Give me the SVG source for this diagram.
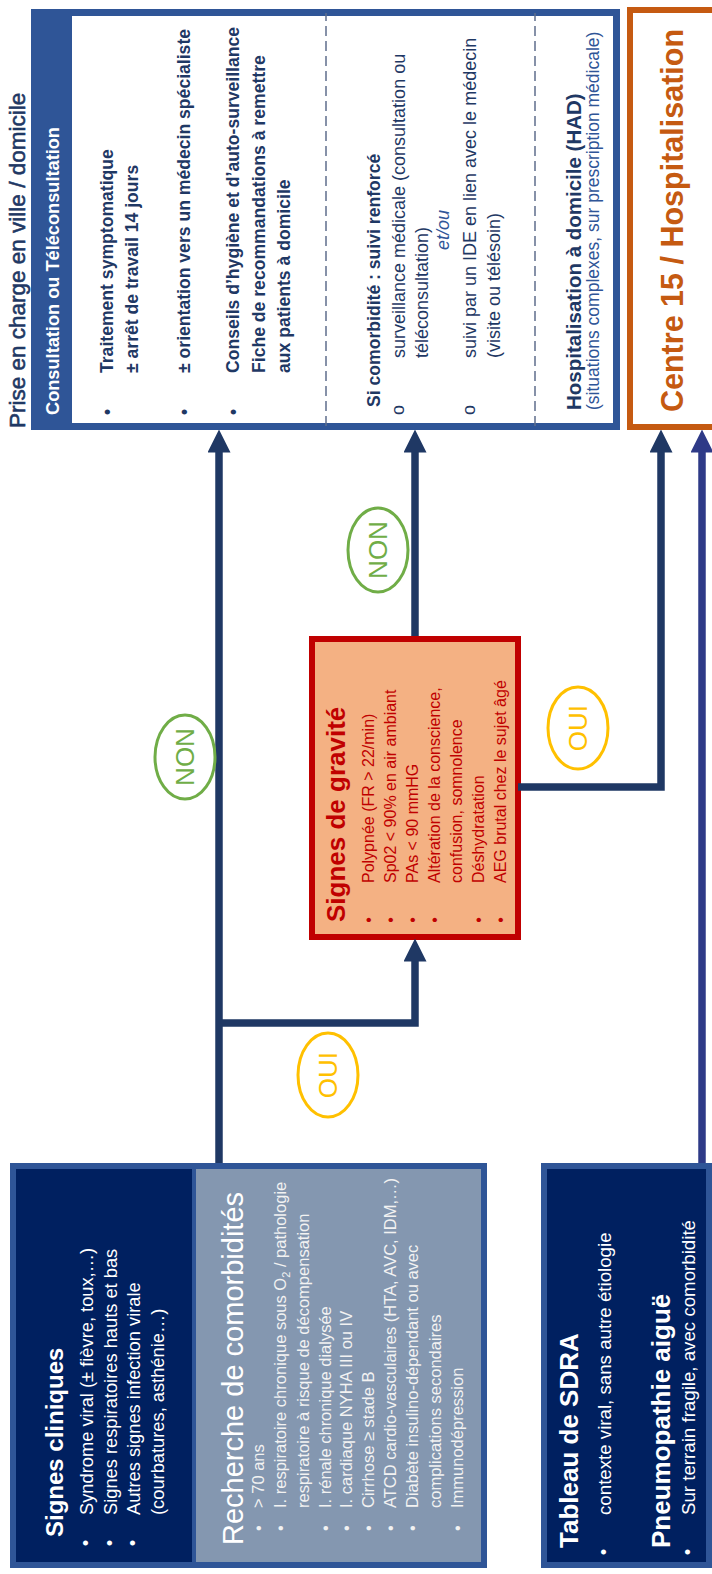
<svg xmlns="http://www.w3.org/2000/svg" width="712" height="1574" viewBox="0 0 712 1574">
<defs>
<style>
text{font-family:"Liberation Sans",Arial,"DejaVu Sans",sans-serif}
.nv{fill:#1F3864}
.b{font-weight:bold}
.s1{font-size:17.6px;font-weight:bold;fill:#1F3864}
.s2{font-size:18px;fill:#1F3864}
.wh{fill:#FFFFFF}
.gl{fill:#F2F2F2;font-size:16.5px}
.rd{fill:#C00000;font-size:16px}
.conn{fill:none;stroke:#1F3864;stroke-width:7.5;stroke-linejoin:miter}
.oui{fill:none;stroke:#FFC000;stroke-width:3}
.non{fill:none;stroke:#70AD47;stroke-width:3}
.lab{font-size:26px;text-anchor:middle}
.dash{stroke:#5F6E8C;stroke-width:1.5;stroke-dasharray:10 5}
</style>
<marker id="ah" markerUnits="userSpaceOnUse" viewBox="0 0 23 23" markerWidth="23" markerHeight="23" refX="0.5" refY="11.5" orient="auto"><path d="M0,0 L23,11.5 L0,23 Z" fill="#1F3864"/></marker>
<marker id="ah2" markerUnits="userSpaceOnUse" viewBox="0 0 23 23" markerWidth="23" markerHeight="23" refX="0.5" refY="11.5" orient="auto"><path d="M0,0 L23,11.5 L0,23 Z" fill="#2E3A87"/></marker>
</defs>
<rect width="712" height="1574" fill="#FFFFFF"/>
<g transform="translate(0,1574) rotate(-90)">

<g id="node-prise-en-charge">
<text x="1146" y="25" class="nv" font-size="22.5" stroke="#1F3864" stroke-width="0.6">Prise en charge en ville / domicile</text>
<rect x="1147.5" y="34.5" width="414" height="582" fill="#FFFFFF" stroke="#2F5597" stroke-width="7"/>
<rect x="1144" y="31" width="421" height="41" fill="#2F5597"/>
<text x="1159" y="59" class="wh b" font-size="18.2">Consultation ou Téléconsultation</text>
<line x1="1148" y1="326" x2="1561" y2="326" class="dash"/>
<line x1="1148" y1="535" x2="1561" y2="535" class="dash"/>
<text x="1162" y="113" class="s1" text-anchor="middle">•</text>
<text x="1201" y="113" class="s1">Traitement symptomatique</text>
<text x="1201" y="138" class="s1">± arrêt de travail 14 jours</text>
<text x="1162" y="190" class="s1" text-anchor="middle">•</text>
<text x="1201" y="190" class="s1">± orientation vers un médecin spécialiste</text>
<text x="1162" y="239" class="s1" text-anchor="middle">•</text>
<text x="1201" y="239" class="s1">Conseils d’hygiène et d’auto-surveillance</text>
<text x="1201" y="265" class="s1">Fiche de recommandations à remettre</text>
<text x="1201" y="290" class="s1">aux patients à domicile</text>
<text x="1167" y="380" class="s1" font-size="18">Si comorbidité : suivi renforcé</text>
<text x="1164" y="404" class="s2" text-anchor="middle">o</text>
<text x="1216" y="405" class="s2">surveillance médicale (consultation ou</text>
<text x="1216" y="428" class="s2">téléconsultation)</text>
<text x="1344" y="449" font-size="18" font-style="italic" fill="#2F5597" text-anchor="middle">et/ou</text>
<text x="1164" y="475" class="s2" text-anchor="middle">o</text>
<text x="1216" y="476" class="s2">suivi par un IDE en lien avec le médecin</text>
<text x="1216" y="500" class="s2">(visite ou télésoin)</text>
<text x="1164" y="581" class="nv b" font-size="20.5">Hospitalisation à domicile (HAD)</text>
<text x="1164" y="599" font-size="17.5" fill="#2F5597">(situations complexes, sur prescription médicale)</text>
</g>

<g id="node-centre15">
<rect x="1147" y="630" width="417" height="110" fill="#FFFFFF" stroke="#C55A11" stroke-width="6"/>
<text x="1162" y="683" font-size="30.5" font-weight="bold" fill="#C55A11">Centre 15 / Hospitalisation</text>
</g>

<g id="node-signes-cliniques">
<rect x="9" y="13" width="399" height="181" fill="#002060"/>
<text x="37" y="63" class="wh b" font-size="24">Signes cliniques</text>
<text x="31" y="92" class="wh" font-size="18.3" text-anchor="middle">•</text>
<text x="59" y="93" class="wh" font-size="18.3">Syndrome viral (± fièvre, toux,…)</text>
<text x="31" y="116" class="wh" font-size="18.3" text-anchor="middle">•</text>
<text x="59" y="117" class="wh" font-size="18.3">Signes respiratoires hauts et bas</text>
<text x="31" y="139" class="wh" font-size="18.3" text-anchor="middle">•</text>
<text x="59" y="140" class="wh" font-size="18.3">Autres signes infection virale</text>
<text x="59" y="164" class="wh" font-size="18.3">(courbatures, asthénie…)</text>
</g>

<g id="node-comorbidites">
<rect x="9" y="194" width="399" height="290" fill="#8497B0"/>
<text x="29" y="243" class="wh" font-size="29">Recherche de comorbidités</text>
<text x="46" y="264" class="gl" text-anchor="middle">•</text>
<text x="66" y="264" class="gl">&gt; 70 ans</text>
<text x="46" y="286" class="gl" text-anchor="middle">•</text>
<text x="66" y="286" class="gl">I. respiratoire chronique sous O<tspan font-size="11" dy="4">2</tspan><tspan dy="-4"> / pathologie</tspan></text>
<text x="66" y="309" class="gl">respiratoire à risque de décompensation</text>
<text x="46" y="331" class="gl" text-anchor="middle">•</text>
<text x="66" y="331" class="gl">I. rénale chronique dialysée</text>
<text x="46" y="352" class="gl" text-anchor="middle">•</text>
<text x="66" y="352" class="gl">I. cardiaque NYHA III ou IV</text>
<text x="46" y="374" class="gl" text-anchor="middle">•</text>
<text x="66" y="374" class="gl">Cirrhose ≥ stade B</text>
<text x="46" y="396" class="gl" text-anchor="middle">•</text>
<text x="66" y="396" class="gl">ATCD cardio-vasculaires (HTA, AVC, IDM,…)</text>
<text x="46" y="418" class="gl" text-anchor="middle">•</text>
<text x="66" y="418" class="gl">Diabète insulino-dépendant ou avec</text>
<text x="66" y="441" class="gl">complications secondaires</text>
<text x="46" y="463" class="gl" text-anchor="middle">•</text>
<text x="66" y="463" class="gl">Immunodépression</text>
<rect x="9" y="13" width="399" height="471" fill="none" stroke="#2F5597" stroke-width="6"/>
<line x1="9" y1="194" x2="408" y2="194" stroke="#2F5597" stroke-width="4"/>
</g>

<g id="node-sdra">
<rect x="9" y="544" width="399" height="165" fill="#002060" stroke="#2F5597" stroke-width="6"/>
<text x="26" y="578" class="wh b" font-size="26">Tableau de SDRA</text>
<text x="22" y="610" class="wh" font-size="18.7" text-anchor="middle">•</text>
<text x="59" y="611" class="wh" font-size="18.7">contexte viral, sans autre étiologie</text>
<text x="26" y="670" class="wh b" font-size="26">Pneumopathie aiguë</text>
<text x="22" y="694" class="wh" font-size="18.7" text-anchor="middle">•</text>
<text x="59" y="695" class="wh" font-size="18.7">Sur terrain fragile, avec comorbidité</text>
</g>

<g id="node-gravite">
<rect x="637" y="312" width="298" height="206" fill="#F4B183" stroke="#C00000" stroke-width="6"/>
<text x="652" y="345" font-size="26" font-weight="bold" fill="#C00000">Signes de gravité</text>
<text x="654" y="374" class="rd" text-anchor="middle">•</text>
<text x="691" y="374" class="rd">Polypnée (FR &gt; 22/min)</text>
<text x="654" y="396" class="rd" text-anchor="middle">•</text>
<text x="691" y="396" class="rd">Sp02 &lt; 90% en air ambiant</text>
<text x="654" y="418" class="rd" text-anchor="middle">•</text>
<text x="691" y="418" class="rd">PAs &lt; 90 mmHG</text>
<text x="654" y="440" class="rd" text-anchor="middle">•</text>
<text x="691" y="440" class="rd">Altération de la conscience,</text>
<text x="691" y="462" class="rd">confusion, somnolence</text>
<text x="654" y="484" class="rd" text-anchor="middle">•</text>
<text x="691" y="484" class="rd">Déshydratation</text>
<text x="654" y="506" class="rd" text-anchor="middle">•</text>
<text x="691" y="506" class="rd">AEG brutal chez le sujet âgé</text>
</g>

<g id="connectors">
<path d="M411,219 H1122" class="conn" marker-end="url(#ah)"/>
<path d="M551,219 V415 H613" class="conn" marker-end="url(#ah)"/>
<path d="M938,415 H1122" class="conn" marker-end="url(#ah)"/>
<path d="M787,518 V661 H1122" class="conn" marker-end="url(#ah)"/>
<path d="M411,702 H1122" class="conn" style="stroke:#2E3A87" marker-end="url(#ah2)"/>
<ellipse cx="499" cy="328" rx="42" ry="30" class="oui"/>
<text x="499" y="337" class="lab" fill="#FFC000">OUI</text>
<ellipse cx="846" cy="578" rx="41" ry="30" class="oui"/>
<text x="846" y="587" class="lab" fill="#FFC000">OUI</text>
<ellipse cx="817" cy="185" rx="42" ry="30" class="non"/>
<text x="817" y="194" class="lab" fill="#70AD47">NON</text>
<ellipse cx="1024" cy="378" rx="42" ry="30" class="non"/>
<text x="1024" y="387" class="lab" fill="#70AD47">NON</text>
</g>

</g>
</svg>
